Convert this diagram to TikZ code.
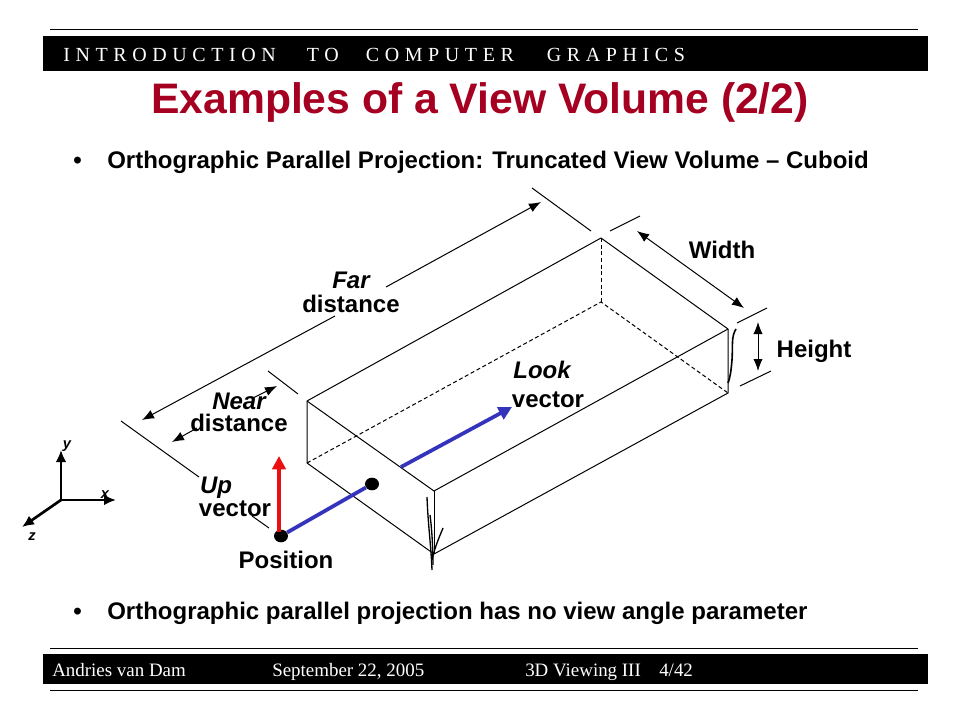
\documentclass[tikz,border=0pt]{standalone}
\usepackage{fontspec}
\setmainfont{Liberation Sans}
\newfontfamily\timesf{Liberation Serif}
\usetikzlibrary{arrows.meta,shapes.geometric}
\definecolor{titlered}{HTML}{A50021}
\definecolor{vecblue}{HTML}{3333BB}
\definecolor{vecred}{HTML}{E81010}
\tikzset{
  thin line/.style={draw=black,line width=0.75pt},
  dashline/.style={thin line,dash pattern=on 3pt off 2pt},
  dimarrow/.style={thin line,-{Latex[length=9pt,width=7pt]}},
  dimboth/.style={thin line,{Latex[length=9pt,width=7pt]}-{Latex[length=9pt,width=7pt]}},
  vecarrow/.style={line width=2.8pt,-{Triangle[length=10pt,width=10pt]}},
  axisarrow/.style={line width=2pt,-{Latex[length=9pt,width=8pt]}},
  lab/.style={font=\fontsize{18}{21}\selectfont\bfseries,inner sep=0pt,anchor=base},
  ilab/.style={font=\fontsize{18}{21}\selectfont\bfseries\itshape,inner sep=0pt,anchor=base},
  axlab/.style={font=\fontsize{11}{13}\selectfont\bfseries\itshape,inner sep=0pt},
  foot/.style={font=\timesf\fontsize{14.2}{16}\selectfont,text=white,anchor=base west,inner sep=0pt},
  bodytext/.style={font=\fontsize{18}{21}\selectfont\bfseries,anchor=base west,inner sep=0pt},
  rulefine/.style={draw=black,line width=0.75pt},
  dot/.style={ellipse,fill=black,inner sep=0pt,minimum width=10.5pt,minimum height=9.5pt}
}
\begin{document}
\begin{tikzpicture}[x=0.75pt,y=-0.75pt]
\useasboundingbox (0,0) rectangle (960,720);
\fill[white] (0,0) rectangle (960,720);
% frame
\coordinate (r1a) at (50,30); \coordinate (r1b) at (918,30);
\coordinate (r2a) at (50,648); \coordinate (r2b) at (918,648);
\coordinate (r3a) at (50,690); \coordinate (r3b) at (918,690);
\draw[rulefine] (r1a)--(r1b); \draw[rulefine] (r2a)--(r2b); \draw[rulefine] (r3a)--(r3b);
\fill[black] (43,36) rectangle (928,71);
\fill[black] (43,654) rectangle (928,684);
\node[font=\timesf\fontsize{15}{18}\selectfont,text=white,anchor=base west,inner sep=0pt] (hdr) at (63,62)
  {\addfontfeature{LetterSpace=28}INTRODUCTION\hspace{1.55em}TO\hspace{1.35em}COMPUTER\hspace{1.65em}GRAPHICS};
\node[foot] (f1) at (52,676) {Andries van Dam};
\node[foot] (f2) at (272,676) {September 22, 2005};
\node[foot] (f3) at (525,676) {3D Viewing III};
\node[foot] (f4) at (659,676) {4/42};
\node[font=\fontsize{32}{38}\selectfont\bfseries,text=titlered,inner sep=0pt,anchor=base] (title) at (480,114) {Examples of a View Volume (2/2)};
\node[bodytext] (b1) at (73,169) {•};
\node[bodytext] (t1) at (107,169) {Orthographic Parallel Projection: Truncated View Volume – Cuboid};
\node[bodytext] (b2) at (73,619) {•};
\node[bodytext] (t2) at (107,619) {Orthographic parallel projection has no view angle parameter};
% cuboid
\coordinate (A) at (307,401); \coordinate (B) at (601,238); \coordinate (C) at (728,329); \coordinate (D) at (434,491);
\coordinate (Ab) at (307,463); \coordinate (Bb) at (601,302); \coordinate (Cb) at (728,393); \coordinate (Db) at (434,554);
\draw[thin line,line join=round] (A)--(B)--(C)--(D)--cycle;
\draw[thin line] (A)--(Ab)--(Db)--(Cb)--(C);
\draw[thin line] (D)--(Db);
\draw[dashline] (B)--(Bb);
\draw[dashline] (Ab)--(Bb)--(Cb);
% tick marks
\coordinate (fl1) at (121,421); \coordinate (fl2) at (199,477);
\coordinate (fl3) at (252,516); \coordinate (fl4) at (269,528);
\draw[thin line] (fl1)--(fl2);
\draw[thin line] (fl3)--(fl4);
\coordinate (nt1) at (268,371); \coordinate (nt2) at (298,394);
\draw[thin line] (nt1)--(nt2);
\coordinate (ft1) at (532,188); \coordinate (ft2) at (591,231);
\draw[thin line] (ft1)--(ft2);
\coordinate (wt1) at (610,231); \coordinate (wt2) at (640,216);
\draw[thin line] (wt1)--(wt2);
\coordinate (wt3) at (737,323); \coordinate (wt4) at (767,308);
\draw[thin line] (wt3)--(wt4);
\coordinate (ht1) at (740,386); \coordinate (ht2) at (771,371);
\draw[thin line] (ht1)--(ht2);
% dimension arrows
\coordinate (fa1) at (335,316); \coordinate (fa2) at (142,420);
\coordinate (fa3) at (386,287); \coordinate (fa4) at (541,202);
\draw[dimarrow] (fa1)--(fa2);
\draw[dimarrow] (fa3)--(fa4);
\coordinate (na1) at (253,398); \coordinate (na2) at (277,386);
\coordinate (na3) at (197,428); \coordinate (na4) at (172,442);
\draw[dimarrow] (na1)--(na2);
\draw[dimarrow] (na3)--(na4);
\coordinate (wa1) at (637,231); \coordinate (wa2) at (744,308);
\draw[dimboth] (wa1)--(wa2);
\coordinate (ha1) at (758,322); \coordinate (ha2) at (758,371);
\draw[dimboth] (ha1)--(ha2);
% scribbles
\draw[line width=1pt] (427,497) .. controls (428,525) and (431,545) .. (432,570);
\draw[line width=1pt] (430,515) .. controls (432,530) and (433,550) .. (433,565);
\draw[line width=1pt] (443,528) .. controls (438,540) and (434,550) .. (432,560);
\draw[line width=1.2pt] (736,329) .. controls (731,337) and (733,345) .. (732,360) .. controls (731,372) and (730,378) .. (728,383);
% vectors
\node[dot] (pos) at (281,536) {};
\node[dot] (eye) at (372,484) {};
\draw[vecblue,line width=2.8pt] (pos)--(eye);
\coordinate (lk1) at (401,467); \coordinate (lk2) at (512,407);
\draw[vecarrow,vecblue] (lk1)--(lk2);
\coordinate (up1) at (279,532); \coordinate (up2) at (279,456);
\draw[vecarrow,vecred] (up1)--(up2);
% axes
\coordinate (O) at (61,500); \coordinate (ax) at (116,500); \coordinate (ay) at (61,450); \coordinate (az) at (22,527);
\draw[axisarrow] (O)--(ax); \draw[axisarrow] (O)--(ay); \draw[axisarrow] (O)--(az);
\node[axlab] (lx) at (105,495) {x};
\node[axlab] (ly) at (67,446) {y};
\node[axlab] (lz) at (32,537) {z};
% labels
\node[ilab] (far) at (351,289) {Far};
\node[lab] (fard) at (351,312) {distance};
\node[ilab] (near) at (239,409) {Near};
\node[lab] (neard) at (239,431) {distance};
\node[ilab] (up) at (216,493) {Up};
\node[lab] (upv) at (235,516) {vector};
\node[lab] (posl) at (286,568) {Position};
\node[ilab] (look) at (542,378) {Look};
\node[lab] (lookv) at (548,407) {vector};
\node[lab] (width) at (722,259) {Width};
\node[lab] (height) at (814,357) {Height};
\end{tikzpicture}
\end{document}
